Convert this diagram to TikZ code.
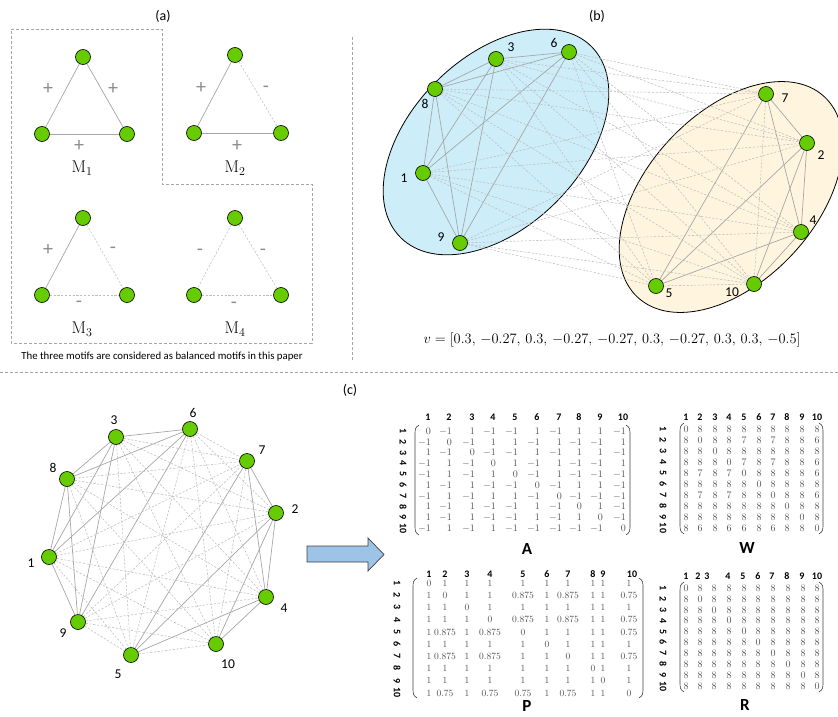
\documentclass[tikz,border=0pt]{standalone}
\usepackage{fontspec}
\newfontfamily\carl{Carlito}
\definecolor{ngreen}{HTML}{66CC00}
\definecolor{egray}{HTML}{A6A6A6}
\definecolor{dgray}{HTML}{BDBDBD}
\definecolor{sgray}{HTML}{8C8C8C}
\definecolor{bluef}{HTML}{CDEEF9}
\definecolor{yelf}{HTML}{FFF5DF}
\definecolor{arrowf}{HTML}{9DC3E6}
\definecolor{valc}{HTML}{505050}
\pgfdeclarelayer{back}\pgfdeclarelayer{mid}\pgfsetlayers{back,mid,main}
\tikzset{
 vtx/.style={circle,draw=black,fill=ngreen,line width=0.6pt,minimum size=15pt,inner sep=0pt},
 posE/.style={draw=egray,line width=0.7pt},
 negE/.style={draw=dgray,line width=0.55pt,dash pattern=on 2.2pt off 1.6pt},
 nlab/.style={font=\carl\fontsize{13.5}{15}\selectfont, inner sep=0pt},
 sign/.style={font=\carl\fontsize{20}{22}\selectfont, text=sgray, inner sep=0pt},
 mlab/.style={font=\fontsize{17}{20}\selectfont, inner sep=0pt},
 panel/.style={font=\carl\fontsize{14}{16}\selectfont, inner sep=0pt},
 sepline/.style={draw=egray, line width=0.6pt, dash pattern=on 3pt off 2pt},
 hdr/.style={font=\carl\bfseries\fontsize{10}{12}\selectfont, inner sep=0pt},
 val/.style={font=\fontsize{10}{12}\selectfont, text=valc, inner sep=0pt, text height=6.5pt, text depth=0pt},
 pval/.style={font=\fontsize{9.5}{11}\selectfont, text=valc, inner sep=0pt, text height=6.5pt, text depth=0pt},
 rlab/.style={hdr, rotate=-90},
 paren/.style={draw=black!75, line width=0.6pt},
 mname/.style={font=\carl\bfseries\fontsize{17}{19}\selectfont, inner sep=0pt},
}
\newcommand\mylp[3]{\draw[paren] (#1+4,#2) .. controls (#1,#2+3) .. (#1,#2+12) -- (#1,#3-12) .. controls (#1,#3-3) .. (#1+4,#3);}
\newcommand\myrp[3]{\draw[paren] (#1-4,#2) .. controls (#1,#2+3) .. (#1,#2+12) -- (#1,#3-12) .. controls (#1,#3-3) .. (#1-4,#3);}
\begin{document}
\begin{tikzpicture}[x=1pt,y=-1pt]
\useasboundingbox (0,0) rectangle (838,717);

% ---------------- (a) ----------------
\node[panel] (pa) at (163,16) {(a)};
\draw[sepline] (11,29) -- (162,29) -- (162,184) -- (312,184) -- (312,343) -- (11,343) -- cycle;
\draw[sepline] (352,37) -- (352,360);
\node[font=\carl\fontsize{10.8}{12}\selectfont, inner sep=0pt] (note) at (162,357) {The three motifs are considered as balanced motifs in this paper};

% M1
\node[vtx] (m1t) at (83,57) {}; \node[vtx] (m1l) at (42,134) {}; \node[vtx] (m1r) at (127,134) {};
\begin{pgfonlayer}{mid}
\draw[posE] (m1t) -- (m1l); \draw[posE] (m1t) -- (m1r); \draw[posE] (m1l) -- (m1r);
\end{pgfonlayer}
\node[sign] (s11) at (48,89) {+}; \node[sign] (s12) at (113,89) {+}; \node[sign] (s13) at (79,146) {+};
\node[mlab] (M1) at (82,168) {$\mathrm{M}_1$};
% M2
\node[vtx] (m2t) at (235,55) {}; \node[vtx] (m2l) at (194,133) {}; \node[vtx] (m2r) at (281,133) {};
\begin{pgfonlayer}{mid}
\draw[posE] (m2t) -- (m2l); \draw[negE] (m2t) -- (m2r); \draw[posE] (m2l) -- (m2r);
\end{pgfonlayer}
\node[sign] (s21) at (201,88) {+}; \node[sign] (s22) at (266,89) {-}; \node[sign] (s23) at (237,146) {+};
\node[mlab] (M2) at (235,168) {$\mathrm{M}_2$};
% M3
\node[vtx] (m3t) at (83,218) {}; \node[vtx] (m3l) at (42,295) {}; \node[vtx] (m3r) at (127,295) {};
\begin{pgfonlayer}{mid}
\draw[posE] (m3t) -- (m3l); \draw[negE] (m3t) -- (m3r); \draw[negE] (m3l) -- (m3r);
\end{pgfonlayer}
\node[sign] (s31) at (48,250) {+}; \node[sign] (s32) at (113,250) {-}; \node[sign] (s33) at (79,304) {-};
\node[mlab] (M3) at (82,329) {$\mathrm{M}_3$};
% M4
\node[vtx] (m4t) at (235,218) {}; \node[vtx] (m4l) at (194,295) {}; \node[vtx] (m4r) at (281,295) {};
\begin{pgfonlayer}{mid}
\draw[negE] (m4t) -- (m4l); \draw[negE] (m4t) -- (m4r); \draw[negE] (m4l) -- (m4r);
\end{pgfonlayer}
\node[sign] (s41) at (200,252) {-}; \node[sign] (s42) at (263,252) {-}; \node[sign] (s43) at (234,305) {-};
\node[mlab] (M4) at (235,329) {$\mathrm{M}_4$};

% ---------------- (b) ----------------
\node[panel] (pb) at (597,16) {(b)};
\begin{pgfonlayer}{back}
\draw[fill=bluef, line width=0.8pt, rotate around={45:(496,142)}] (496,142) ellipse [x radius=135pt, y radius=85pt];
\draw[fill=yelf, line width=0.8pt, rotate around={47:(731,197)}] (731,197) ellipse [x radius=137pt, y radius=84pt];
\end{pgfonlayer}
\foreach \n/\x/\y in {1/423/173,2/807/143,3/496/59,4/801/232,5/656/286,6/569/52,7/766/94,8/435/89,9/460/243,10/754/284}
  \node[vtx] (b\n) at (\x,\y) {};
\begin{pgfonlayer}{mid}
\foreach \i/\j in {1/3,1/6,1/8,1/9,3/6,3/8,3/9,6/8,6/9,8/9,2/4,2/5,2/7,4/5,4/7,5/7,2/10,4/10}
  \draw[posE] (b\i) -- (b\j);
\foreach \i in {1,3,6,8,9}{\foreach \j in {2,4,5,7,10}{\draw[negE] (b\i) -- (b\j);}}
\draw[negE] (b5) -- (b10); \draw[negE] (b7) -- (b10);
\end{pgfonlayer}
\foreach \n/\x/\y in {1/404/178,2/821/155,3/511/47,4/813/220,5/669/293,6/554/43,7/785/98,8/425/104,9/441/237,10/732/292}
  \node[nlab] (bl\n) at (\x,\y) {\n};
\node[font=\fontsize{14}{16}\selectfont, inner sep=0pt] (vform) at (612,340) {$v = [0.3,\, -0.27,\, 0.3,\, -0.27,\, -0.27,\, 0.3,\, -0.27,\, 0.3,\, 0.3,\, -0.5]$};

\draw[sepline] (0,372) -- (838,372);

% ---------------- (c) ----------------
\node[panel] (pc) at (350,390) {(c)};
\foreach \n/\x/\y in {1/49/557,2/276/513,3/116/437,4/266/597,5/131/655,6/190/429,7/247/461,8/67/479,9/78/622,10/216/644}
  \node[vtx] (c\n) at (\x,\y) {};
\begin{pgfonlayer}{mid}
\foreach \i/\j in {1/3,1/6,1/8,1/9,3/6,3/8,3/9,6/8,6/9,8/9,2/4,2/5,2/7,4/5,4/7,5/7,2/10,4/10}
  \draw[posE] (c\i) -- (c\j);
\foreach \i in {1,3,6,8,9}{\foreach \j in {2,4,5,7,10}{\draw[negE] (c\i) -- (c\j);}}
\draw[negE] (c5) -- (c10); \draw[negE] (c7) -- (c10);
\end{pgfonlayer}
\foreach \n/\x/\y in {1/31/563,2/295/509,3/114/420,4/284/608,5/118/674,6/193/413,7/262/450,8/53/468,9/63/633,10/228/664}
  \node[nlab] (cl\n) at (\x,\y) {\n};

\draw[fill=arrowf, draw=black!75, line width=0.7pt] (307,546) -- (368,546) -- (368,538) -- (384,554.5) -- (368,571) -- (368,562) -- (307,562) -- cycle;

% ---- matrix A ----
\foreach \c [count=\i] in {428,449,472,493,515,537,559,579,600,623} \node[hdr] (Ah\i) at (\c,417) {\i};
\foreach \i in {1,...,10} \node[rlab] (Ar\i) at (403,{431+(\i-1)*10.8}) {\i};
\foreach \row [count=\r] in {{0,-1,1,-1,-1,1,-1,1,1,-1},{-1,0,-1,1,1,-1,1,-1,-1,1},{1,-1,0,-1,-1,1,-1,1,1,-1},{-1,1,-1,0,1,-1,1,-1,-1,1},{-1,1,-1,1,0,-1,1,-1,-1,-1},{1,-1,1,-1,-1,0,-1,1,1,-1},{-1,1,-1,1,1,-1,0,-1,-1,-1},{1,-1,1,-1,-1,1,-1,0,1,-1},{1,-1,1,-1,-1,1,-1,1,0,-1},{-1,1,-1,1,-1,-1,-1,-1,-1,0}}{
  \foreach \v [count=\c] in \row {
    \pgfmathsetmacro\xx{{428,449,472,493,515,537,559,579,600,623}[\c-1]}
    \node[val, anchor=east] (A\r-\c) at (\xx+3,{431+(\r-1)*10.8}) {$\v$};
  }
}
\mylp{415}{425}{535}
\myrp{630}{425}{535}
\node[mname] (Aname) at (527,549) {A};

% ---- matrix W ----
\foreach \c [count=\i] in {686,700,715,729,744,759,773,787,802,817} \node[hdr] (Wh\i) at (\c,417) {\i};
\foreach \i in {1,...,10} \node[rlab] (Wr\i) at (663,{429+(\i-1)*11}) {\i};
\foreach \row [count=\r] in {{0,8,8,8,8,8,8,8,8,8},{8,0,8,8,7,8,7,8,8,6},{8,8,0,8,8,8,8,8,8,8},{8,8,8,0,7,8,7,8,8,6},{8,7,8,7,0,8,8,8,8,6},{8,8,8,8,8,0,8,8,8,8},{8,7,8,7,8,8,0,8,8,6},{8,8,8,8,8,8,8,0,8,8},{8,8,8,8,8,8,8,8,0,8},{8,6,8,6,6,8,6,8,8,0}}{
  \foreach \v [count=\c] in \row {
    \pgfmathsetmacro\xx{{686,700,715,729,744,759,773,787,802,817}[\c-1]}
    \node[val] (W\r-\c) at (\xx,{429+(\r-1)*11}) {\v};
  }
}
\mylp{680}{423}{534}
\myrp{823}{423}{534}
\node[mname] (Wname) at (747,548) {W};

% ---- matrix P ----
\foreach \c [count=\i] in {429,445,467,490,523,547,568,593,603,632} \node[hdr] (Ph\i) at (\c,574) {\i};
\foreach \i in {1,...,10} \node[rlab] (Pr\i) at (397,{583+(\i-1)*12.2}) {\i};
\foreach \row [count=\r] in {{0,1,1,1,1,1,1,1,1,1},{1,0,1,1,0.875,1,0.875,1,1,0.75},{1,1,0,1,1,1,1,1,1,1},{1,1,1,0,0.875,1,0.875,1,1,0.75},{1,0.875,1,0.875,0,1,1,1,1,0.75},{1,1,1,1,1,0,1,1,1,1},{1,0.875,1,0.875,1,1,0,1,1,0.75},{1,1,1,1,1,1,1,0,1,1},{1,1,1,1,1,1,1,1,0,1},{1,0.75,1,0.75,0.75,1,0.75,1,1,0}}{
  \foreach \v [count=\c] in \row {
    \pgfmathsetmacro\xx{{429,445,467,490,523,547,568,593,603,629}[\c-1]}
    \node[pval] (P\r-\c) at (\xx,{583+(\r-1)*12.2}) {\v};
  }
}
\mylp{413}{578}{698}
\myrp{643}{578}{698}
\node[mname] (Pname) at (527,706) {P};

% ---- matrix R ----
\foreach \c [count=\i] in {686,698,707,728,743,758,772,787,802,817} \node[hdr] (Rh\i) at (\c,576) {\i};
\foreach \i in {1,...,10} \node[rlab] (Rr\i) at (663,{588+(\i-1)*10.9}) {\i};
\foreach \r in {1,...,10}{
  \foreach \c in {1,...,10}{
    \pgfmathsetmacro\xx{{686,700,714,729,744,758,773,788,803,817}[\c-1]}
    \ifnum\r=\c \def\vv{0}\else\def\vv{8}\fi
    \node[val] (R\r-\c) at (\xx,{588+(\r-1)*10.9}) {\vv};
  }
}
\mylp{680}{582}{692}
\myrp{823}{582}{692}
\node[mname] (Rname) at (745,705) {R};
\end{tikzpicture}
\end{document}
